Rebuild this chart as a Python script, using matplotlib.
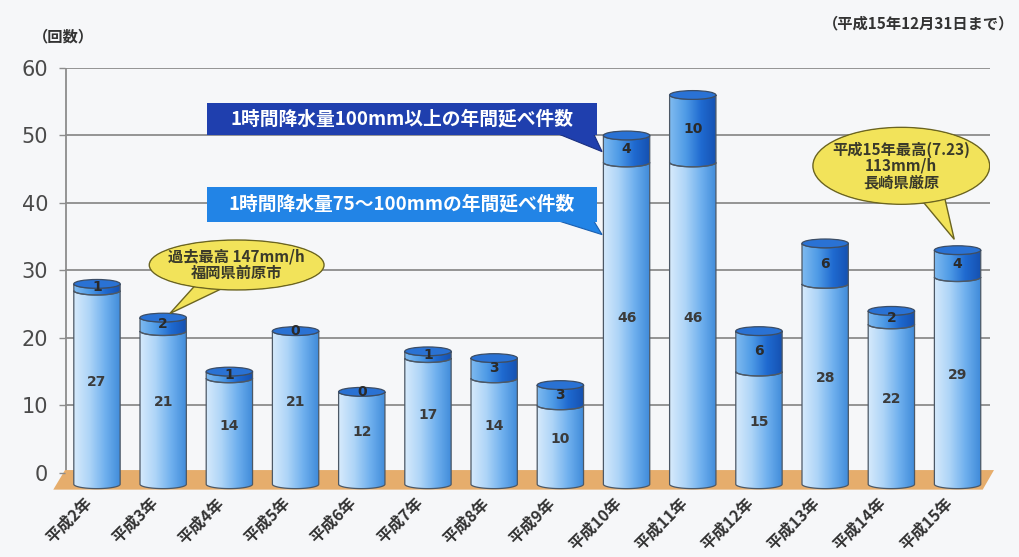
import numpy as np
import matplotlib.pyplot as plt
from matplotlib.patches import Rectangle, Ellipse, Polygon
from matplotlib.colors import LinearSegmentedColormap

plt.rcParams['font.family'] = ['Noto Sans CJK JP', 'DejaVu Sans']

# 年別の1時間降水量の年間延べ件数
years = ['平成2年', '平成3年', '平成4年', '平成5年', '平成6年', '平成7年', '平成8年',
         '平成9年', '平成10年', '平成11年', '平成12年', '平成13年', '平成14年', '平成15年']
count_75_100 = [27, 21, 14, 21, 12, 17, 14, 10, 46, 46, 15, 28, 22, 29]
count_100_up = [1, 2, 1, 0, 0, 1, 3, 3, 4, 10, 6, 6, 2, 4]
yticks = [0, 10, 20, 30, 40, 50, 60]

bg = '#f6f7f9'
bw = 0.7      # bar width
eh = 0.65     # half height of the cylinder ellipse
base = -1.7   # cylinders stand on the floor
xl, xr = -0.483, 13.49

low_cmap = LinearSegmentedColormap.from_list('low', ['#d6eafc', '#add4f7', '#6fb0ee', '#3f8ad9'])
up_cmap = LinearSegmentedColormap.from_list('up', ['#7fbaf0', '#4f9be6', '#1f6ad0', '#1550b0'])


def body(xc, y0, y1):
    # side of a cylinder: convex bottom arc, concave top arc
    t = np.linspace(0, np.pi, 40)
    bottom = np.column_stack([xc - bw / 2 * np.cos(t), y0 - eh * np.sin(t)])
    top = np.column_stack([xc + bw / 2 * np.cos(t), y1 - eh * np.sin(t)])
    return np.vstack([bottom, top])


def shaded(ax, verts, cmap, xc, y0, y1):
    patch = Polygon(verts, closed=True, facecolor='none', edgecolor='#4c5866', lw=0.9, zorder=3)
    ax.add_patch(patch)
    im = ax.imshow(np.linspace(0, 1, 256).reshape(1, -1), cmap=cmap, aspect='auto',
                   extent=(xc - bw / 2, xc + bw / 2, y0 - eh, y1 + eh), zorder=2,
                   interpolation='bilinear')
    im.set_clip_path(patch)


fig = plt.figure(figsize=(10.19, 5.57), dpi=100, facecolor=bg)
ax = fig.add_axes([65 / 1019, 64 / 557, 925 / 1019, 425 / 557])
ax.set_facecolor(bg)
for s in ax.spines.values():
    s.set_visible(False)

# grid and axis
ax.hlines(yticks[1:], xl, xr, color='#8c8c8c', lw=1.3, zorder=0)
ax.plot([xl + 0.02, xl + 0.02], [0, 60], color='#8c8c8c', lw=1.3, zorder=0)

# floor
floor = Polygon([(-0.66, -2.5), (xl, 0.4), (13.55, 0.4), (13.38, -2.5)], closed=True,
                facecolor='#e6ad6c', edgecolor='none', zorder=1, clip_on=False)
ax.add_patch(floor)

num_font = dict(family='DejaVu Sans', fontsize=10, fontweight='bold', ha='center', va='center', zorder=5)
for i, (lo, up) in enumerate(zip(count_75_100, count_100_up)):
    total = lo + up
    shaded(ax, body(i, base, lo), low_cmap, i, base, lo)
    if up > 0:
        shaded(ax, body(i, lo, total), up_cmap, i, lo, total)
    ax.add_patch(Ellipse((i, total), bw, 2 * eh, facecolor='#2a72d4', edgecolor='#3b4d66',
                         lw=0.9, zorder=4))
    ax.text(i, lo / 2, str(lo), color='#3a3a3a', **num_font)
    uy = lo + up / 2 if up > 0 else total
    ax.text(i, uy, str(up), color='#2a2a2a', **num_font)

# legend boxes with pointers to 平成10年
bx0, bx1 = 1.66, 7.55
tip_x = 8 - bw / 2 - 0.02
ax.add_patch(Polygon([(6.95, 50.3), (7.5, 50.3), (tip_x, 47.6)], closed=True,
                     facecolor='#1f3fae', edgecolor='#1a2f80', lw=0.8, zorder=6))
ax.add_patch(Rectangle((bx0, 50.1), bx1 - bx0, 4.7, facecolor='#1f3fae', edgecolor='none', zorder=6))
ax.text((bx0 + bx1) / 2, 52.45, '1時間降水量100mm以上の年間延べ件数', ha='center', va='center',
        fontsize=13.5, fontweight='bold', color='white', zorder=7)

ax.add_patch(Polygon([(6.95, 37.4), (7.5, 37.4), (tip_x, 35.3)], closed=True,
                     facecolor='#2284e6', edgecolor='#1a5fb0', lw=0.8, zorder=6))
ax.add_patch(Rectangle((bx0, 37.2), bx1 - bx0, 5.2, facecolor='#2284e6', edgecolor='none', zorder=6))
ax.text((bx0 + bx1) / 2, 39.8, '1時間降水量75～100mmの年間延べ件数', ha='center', va='center',
        fontsize=13.5, fontweight='bold', color='white', zorder=7)


def balloon(cx, cy, w, h, tail, tip, text):
    ax.add_patch(Polygon([tail[0], tail[1], tip], closed=True, facecolor='#f2e35a',
                         edgecolor='#6b6420', lw=1.0, zorder=6))
    ax.add_patch(Ellipse((cx, cy), w, h, facecolor='#f2e35a', edgecolor='#6b6420', lw=1.0, zorder=6))
    ax.add_patch(Ellipse((cx, cy), w - 0.04, h - 0.3, facecolor='#f2e35a', edgecolor='none', zorder=6))
    ax.text(cx, cy, text, ha='center', va='center', fontsize=11, fontweight='bold',
            color='#3a3a2a', linespacing=1.0, zorder=7)


balloon(2.11, 30.8, 2.64, 7.4, [(1.55, 28.5), (1.95, 27.6)],
        (1.1, count_75_100[1] + count_100_up[1] + 0.6), '過去最高 147mm/h\n福岡県前原市')
balloon(12.15, 45.5, 2.67, 11.4, [(12.45, 40.5), (12.8, 41.0)],
        (12.95, count_75_100[13] + count_100_up[13] + 1.6), '平成15年最高(7.23)\n113mm/h\n長崎県厳原')

ax.set_xlim(xl, xr)
ax.set_ylim(-3, 60)
ax.set_yticks(yticks)
ax.set_yticklabels([str(v) for v in yticks], family='DejaVu Sans')
ax.tick_params(axis='y', length=4, width=1, color='#8c8c8c', pad=8, labelsize=15,
               labelcolor='#4a4a4a')
ax.set_xticks([])

# slanted year labels under each cylinder
for i, name in enumerate(years):
    ax.text(i - 0.12, -4.1, name, rotation=45, ha='right', va='center', rotation_mode='anchor',
            fontsize=11.5, fontweight='bold', color='#333333', clip_on=False)

fig.text(0.062, 0.934, '（回数）', ha='center', va='center', fontsize=11, fontweight='bold', color='#333333')
fig.text(0.995, 0.958, '（平成15年12月31日まで）', ha='right', va='center', fontsize=11,
         fontweight='bold', color='#333333')

fig.savefig('out.png', dpi=100, facecolor=bg)
